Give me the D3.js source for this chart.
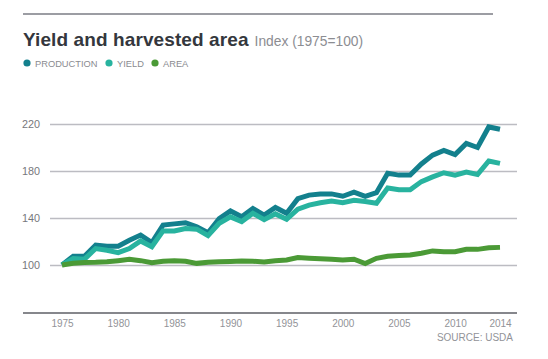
<!DOCTYPE html>
<html>
<head>
<meta charset="utf-8">
<script src="https://cdn.jsdelivr.net/npm/d3@7"></script>
<style>
  body { margin: 0; background: #fff; }
  text { font-family: "Liberation Sans", Arial, sans-serif; }
</style>
</head>
<body>
<div id="chart"></div>
<script>
// data (index, 1975 = 100)
const years = d3.range(1975, 2015);
const production = [100, 107.5, 107.5, 117, 116, 116, 121, 125.5, 119, 134,
  135, 136, 132.5, 127.5, 139.5, 146, 141, 148, 142.5, 149,
  144, 156.5, 159.5, 160.5, 160.5, 158.5, 162, 158.5, 161.5, 178,
  176.5, 176.5, 186, 193.5, 197.5, 194, 203.5, 200, 217.5, 215.5];
const yieldIdx = [100, 105.5, 105, 114, 112.5, 110.5, 114, 120.5, 115.5, 129,
  129, 131, 130.5, 125, 135.5, 141, 137, 144, 138.5, 143.5,
  139, 147.5, 151, 153, 154.5, 153, 155, 154, 152.5, 165.5,
  164, 164, 171, 175, 178.5, 176.5, 179, 177, 188.5, 186.5];
const area = [100, 101.4, 102.2, 102.3, 102.8, 103.7, 104.8, 103.7, 102, 103.2,
  103.7, 103.2, 101.4, 102.3, 102.8, 103, 103.3, 103.2, 102.5, 103.7,
  104.2, 106.3, 105.8, 105.3, 104.8, 104.3, 104.9, 101.2, 105.7, 107.4,
  108, 108.5, 110, 112, 111.3, 111.3, 113.3, 113.3, 114.7, 115];
const yTicks = [100, 140, 180, 220];
const xTicks = [1975, 1980, 1985, 1990, 1995, 2000, 2005, 2010, 2014];

const series = [
  { name: "PRODUCTION", values: production, color: "#13808d" },
  { name: "YIELD", values: yieldIdx, color: "#28b39f" },
  { name: "AREA", values: area, color: "#4b9a36" }
];

const width = 548, height = 359;

const svg = d3.select("#chart").append("svg")
  .attr("width", width)
  .attr("height", height);

const x = d3.scaleLinear().domain([1975, 2014]).range([62, 500]);
const y = d3.scaleLinear().domain([100, 220]).range([265, 124]);

// top rule
svg.append("line")
  .attr("x1", 23).attr("x2", 493)
  .attr("y1", 14).attr("y2", 14)
  .attr("stroke", "#9c9da3").attr("stroke-width", 2);

// title
const title = svg.append("text")
  .attr("x", 23).attr("y", 46)
  .attr("font-size", 19).attr("font-weight", "bold")
  .attr("fill", "#34373d")
  .attr("letter-spacing", 0.1);
title.append("tspan").text("Yield and harvested area");
title.append("tspan")
  .attr("dx", 6)
  .attr("font-size", 13.8).attr("font-weight", "normal")
  .attr("fill", "#8c8d92").attr("letter-spacing", 0)
  .text("Index (1975=100)");

// legend
const legendX = [27, 109, 155];
const legend = svg.append("g");
series.forEach((s, i) => {
  legend.append("circle")
    .attr("cx", legendX[i]).attr("cy", 63).attr("r", 3.6)
    .attr("fill", s.color);
  legend.append("text")
    .attr("x", legendX[i] + 8).attr("y", 66.5)
    .attr("font-size", 9.3).attr("fill", "#8a8b90")
    .text(s.name);
});

// y gridlines + labels
const yAxis = d3.axisLeft(y)
  .tickValues(yTicks)
  .tickSize(-(517 - 50))
  .tickPadding(10);
const yAxisG = svg.append("g")
  .attr("transform", "translate(50,0)")
  .call(yAxis);
yAxisG.select(".domain").remove();
yAxisG.selectAll(".tick line")
  .attr("stroke", "#bcbcc2").attr("stroke-width", 1.5);
yAxisG.selectAll(".tick text")
  .attr("font-size", 10.8).attr("fill", "#76777c")
  .style("font-family", "Liberation Sans, Arial, sans-serif");

// x axis
const xAxis = d3.axisBottom(x)
  .tickValues(xTicks)
  .tickFormat(d3.format("d"))
  .tickSize(0)
  .tickPadding(7);
const xAxisG = svg.append("g")
  .attr("transform", "translate(0,313)")
  .call(xAxis);
xAxisG.select(".domain").remove();
xAxisG.selectAll(".tick text")
  .attr("font-size", 10).attr("fill", "#929398")
  .style("font-family", "Liberation Sans, Arial, sans-serif");
svg.append("line")
  .attr("x1", 23).attr("x2", 517)
  .attr("y1", 313).attr("y2", 313)
  .attr("stroke", "#86878c").attr("stroke-width", 2);

// lines
const line = d3.line()
  .x((d, i) => x(years[i]))
  .y((d) => y(d));

series.forEach((s) => {
  svg.append("path")
    .datum(s.values)
    .attr("d", line)
    .attr("fill", "none")
    .attr("stroke", s.color)
    .attr("stroke-width", 5);
});

// source
svg.append("text")
  .attr("x", 513).attr("y", 341)
  .attr("text-anchor", "end")
  .attr("font-size", 10).attr("fill", "#929398")
  .text("SOURCE: USDA");
</script>
</body>
</html>
